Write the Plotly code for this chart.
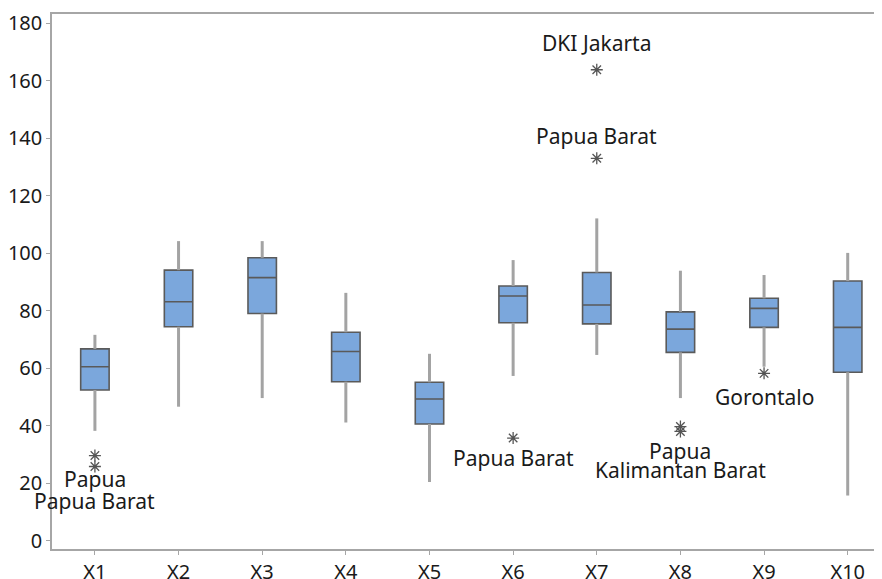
import plotly.graph_objects as go

categories = ["X1", "X2", "X3", "X4", "X5", "X6", "X7", "X8", "X9", "X10"]
positions = [1, 2, 3, 4, 5, 6, 7, 8, 9, 10]
lower_whisker = [38.2, 46.6, 49.6, 41.1, 20.4, 57.3, 64.6, 49.6, 60.5, 15.7]
q1 = [52.4, 74.4, 79.0, 55.3, 40.6, 75.8, 75.4, 65.5, 74.2, 58.6]
median = [60.5, 83.1, 91.5, 65.8, 49.3, 85.1, 82.0, 73.6, 80.8, 74.2]
q3 = [66.7, 94.1, 98.4, 72.5, 55.1, 88.6, 93.3, 79.6, 84.3, 90.3]
upper_whisker = [71.6, 104.2, 104.2, 86.2, 65.0, 97.6, 112.1, 93.9, 92.4, 100.1]

outlier_x = [1, 1, 6, 7, 7, 8, 8, 9]
outlier_y = [29.6, 25.8, 35.7, 163.8, 133.0, 39.7, 38.0, 58.2]

label_text = ["Papua", "Papua Barat", "Papua Barat", "DKI Jakarta", "Papua Barat",
              "Papua", "Kalimantan Barat", "Gorontalo"]
label_x = [1, 1, 6, 7, 7, 8, 8, 9]
label_y = [21.6, 13.8, 28.6, 173.2, 140.6, 31.2, 24.6, 50.0]

FONT = "Noto Sans"
TXT = "#1a1a1a"

fig = go.Figure()

# whiskers
wx, wy = [], []
for p, lo, a, b, hi in zip(positions, lower_whisker, q1, q3, upper_whisker):
    wx += [p, p, None, p, p, None]
    wy += [lo, a, None, b, hi, None]
fig.add_trace(go.Scatter(x=wx, y=wy, mode="lines",
                         line=dict(color="#a3a3a3", width=3),
                         hoverinfo="skip", showlegend=False))

# boxes
fig.add_trace(go.Box(x=positions, q1=q1, median=median, q3=q3,
                     lowerfence=q1, upperfence=q3,
                     width=0.34, whiskerwidth=0, boxpoints=False,
                     fillcolor="#7ba7dc",
                     line=dict(color="#5a5a5a", width=1.6),
                     showlegend=False))

# outliers
fig.add_trace(go.Scatter(x=outlier_x, y=outlier_y, mode="markers",
                         marker=dict(symbol="asterisk-open", size=10, color="#555555",
                                     line=dict(color="#555555", width=1.3)),
                         showlegend=False))

for t, x, y in zip(label_text, label_x, label_y):
    fig.add_annotation(x=x, y=y, text=t, showarrow=False,
                       xanchor="center", yanchor="middle",
                       font=dict(family=FONT, size=21, color=TXT))

# page has an 8px body margin; size the figure so the plot area lands correctly
fig.update_layout(
    width=874, height=571,
    margin=dict(l=44, r=0, t=6, b=30),
    plot_bgcolor="white", paper_bgcolor="white",
    font=dict(family=FONT, size=20, color=TXT),
    showlegend=False,
)
fig.update_xaxes(range=[0.487, 10.41], tickvals=positions, ticktext=categories,
                 showline=True, linecolor="#a6a6a6", linewidth=1.5, mirror=True,
                 ticks="outside", ticklen=4, tickcolor="#a6a6a6",
                 showgrid=False, zeroline=False, automargin=False,
                 tickfont=dict(family=FONT, size=20, color=TXT))
fig.update_yaxes(range=[-2.9, 183.2], tickvals=list(range(0, 181, 20)),
                 showline=True, linecolor="#a6a6a6", linewidth=1.5,
                 ticks="outside", ticklen=4, tickcolor="#a6a6a6",
                 showgrid=False, zeroline=False, automargin=False,
                 tickfont=dict(family=FONT, size=20, color=TXT))

fig.write_html("out.html")
